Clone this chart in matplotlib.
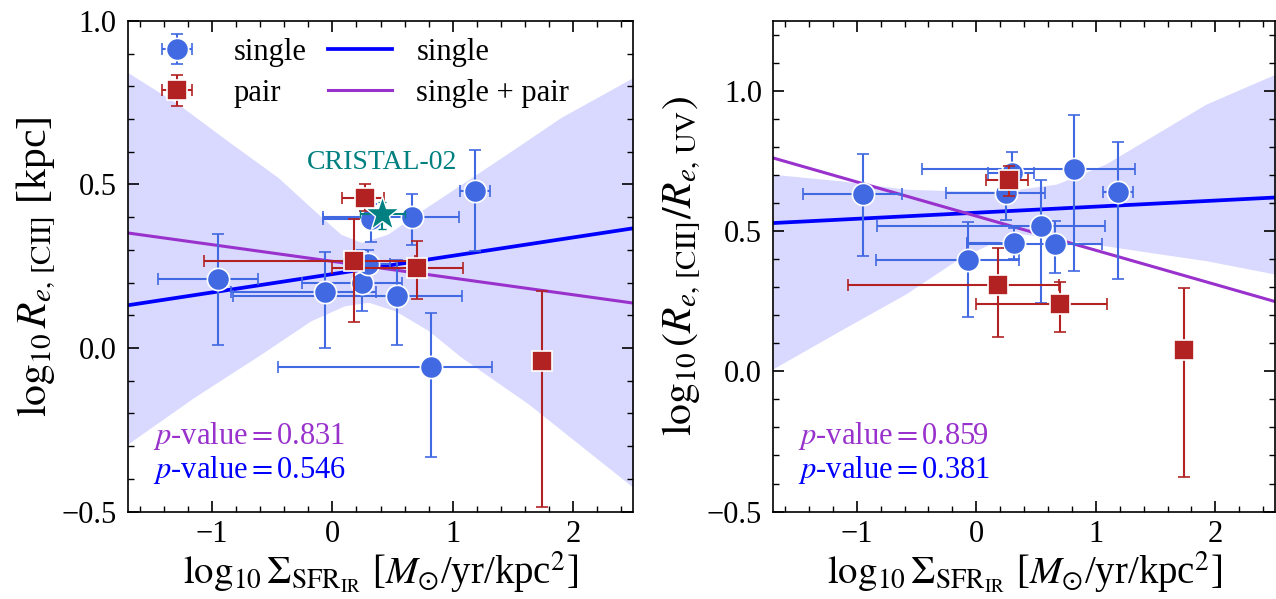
import numpy as np
import matplotlib
matplotlib.use("Agg")
import matplotlib.pyplot as plt
from matplotlib.ticker import MultipleLocator, FuncFormatter

plt.rcParams['font.family'] = ['Liberation Serif', 'DejaVu Serif']
plt.rcParams['mathtext.fontset'] = 'stix'

# ---------------- data ----------------
# single sources
single_x = np.array([-0.95, -0.065, 0.54, 0.66, 1.19, 0.82, 0.25, 0.30, 0.32])
single_xlo = np.array([-1.45, -0.84, -0.83, -0.075, 1.06, -0.45, -0.25, 0.095, -0.075])
single_xhi = np.array([-0.62, 0.36, 1.08, 1.05, 1.31, 1.33, 0.575, 0.48, 0.36])
# left panel: log10 Re,[CII]
single_yL = np.array([0.211, 0.170, 0.160, 0.400, 0.479, -0.059, 0.198, 0.257, 0.394])
single_yL_lo = np.array([0.009, 0.000, 0.009, 0.316, 0.297, -0.332, 0.114, 0.200, 0.325])
single_yL_hi = np.array([0.348, 0.294, 0.270, 0.470, 0.606, 0.107, 0.300, 0.300, 0.440])
# right panel: log10 (Re,[CII]/Re,UV)
single_yR = np.array([0.632, 0.397, 0.519, 0.456, 0.641, 0.721, 0.638, 0.709, 0.458])
single_yR_lo = np.array([0.410, 0.193, 0.243, 0.350, 0.329, 0.357, 0.540, 0.640, 0.400])
single_yR_hi = np.array([0.777, 0.534, 0.683, 0.537, 0.819, 0.915, 0.700, 0.783, 0.510])

# pair sources
pair_x = np.array([0.27, 0.18, 0.70, 1.74])
pair_xlo = np.array([0.08, -1.07, -0.005, 1.74])
pair_xhi = np.array([0.43, 0.69, 1.09, 1.74])
pair_yL = np.array([0.460, 0.265, 0.246, -0.041])
pair_yL_lo = np.array([0.420, 0.080, 0.150, -0.487])
pair_yL_hi = np.array([0.501, 0.393, 0.326, 0.175])
pair_yR = np.array([0.683, 0.308, 0.240, 0.077])
pair_yR_lo = np.array([0.624, 0.121, 0.139, -0.375])
pair_yR_hi = np.array([0.731, 0.439, 0.320, 0.296])

# CRISTAL-02
cristal_x, cristal_xlo, cristal_xhi = 0.41, 0.23, 0.60
cristal_y, cristal_ylo, cristal_yhi = 0.411, 0.364, 0.445

# fitted lines (intercept at x=0, slope)
fitL_single = (0.226, 0.056)
fitL_all = (0.265, -0.051)
fitR_single = (0.566, 0.0217)
fitR_all = (0.554, -0.122)

# confidence band edges (single fit)
bandL_x_up = [-1.70, -1.28, -0.87, -0.45, -0.15, 0.07, 0.24, 0.46, 0.74, 1.07, 1.49, 1.90, 2.50]
bandL_y_up = [0.842, 0.745, 0.633, 0.521, 0.420, 0.348, 0.323, 0.348, 0.420, 0.500, 0.603, 0.705, 0.827]
bandL_x_lo = [-1.70, -1.15, -0.59, -0.18, 0.10, 0.30, 0.52, 0.80, 1.07, 1.63, 2.50]
bandL_y_lo = [-0.293, -0.151, -0.018, 0.083, 0.129, 0.140, 0.114, 0.053, -0.028, -0.171, -0.426]

bandR_x_up = [-1.70, -1.14, -0.59, -0.17, 0.25, 0.67, 1.08, 1.50, 1.92, 2.50]
bandR_y_up = [0.703, 0.680, 0.650, 0.644, 0.644, 0.668, 0.739, 0.846, 0.953, 1.060]
bandR_x_lo = [-1.70, -1.14, -0.59, -0.17, 0.11, 0.39, 0.80, 1.36, 1.92, 2.50]
bandR_y_lo = [0.009, 0.145, 0.276, 0.395, 0.454, 0.490, 0.466, 0.430, 0.395, 0.347]

pvals_L = ("0.831", "0.546")
pvals_R = ("0.859", "0.381")

xlim = (-1.7, 2.5)

# ---------------- styling ----------------
C_SINGLE = '#4169E1'
C_PAIR = '#B22222'
C_LINE_S = '#0000FF'
C_LINE_A = '#9932CC'
C_TEAL = '#008080'

fig = plt.figure(figsize=(12.76, 5.99), dpi=100)
axL = fig.add_axes([0.1003, 0.146, 0.3958, 0.819])
axR = fig.add_axes([0.6058, 0.146, 0.3935, 0.819])


def draw(ax, yS, ySlo, yShi, yP, yPlo, yPhi, fit_s, fit_a, bxu, byu, bxl, byl, pv):
    grid = np.linspace(xlim[0], xlim[1], 200)
    up = np.interp(grid, bxu, byu)
    lo = np.interp(grid, bxl, byl)
    ax.fill_between(grid, lo, up, color='blue', alpha=0.15, lw=0, zorder=1)
    xx = np.array(xlim)
    ls, = ax.plot(xx, fit_s[0] + fit_s[1] * xx, color=C_LINE_S, lw=2.7, zorder=2)
    la, = ax.plot(xx, fit_a[0] + fit_a[1] * xx, color=C_LINE_A, lw=2.2, zorder=2)
    eb_s = ax.errorbar(single_x, yS,
                       xerr=[single_x - single_xlo, single_xhi - single_x],
                       yerr=[yS - ySlo, yShi - yS],
                       fmt='o', color=C_SINGLE, ecolor=C_SINGLE, ms=16, mec='white', mew=1.2,
                       elinewidth=1.5, capsize=4, capthick=1.5, zorder=4)
    eb_p = ax.errorbar(pair_x, yP,
                       xerr=[pair_x - pair_xlo, pair_xhi - pair_x],
                       yerr=[yP - yPlo, yPhi - yP],
                       fmt='s', color=C_PAIR, ecolor=C_PAIR, ms=14, mec='white', mew=1.2,
                       elinewidth=1.5, capsize=4, capthick=1.5, zorder=5)
    ax.set_xlim(*xlim)
    ax.xaxis.set_major_locator(MultipleLocator(1))
    ax.xaxis.set_minor_locator(MultipleLocator(0.2))
    ax.yaxis.set_major_locator(MultipleLocator(0.5))
    ax.yaxis.set_minor_locator(MultipleLocator(0.1))
    ax.tick_params(which='both', direction='in', top=True, right=True, labelsize=22)
    ax.tick_params(axis='x', pad=6)
    ax.tick_params(axis='y', pad=8)
    ax.tick_params(which='major', length=8, width=1.2)
    ax.tick_params(which='minor', length=4, width=1.0)
    for s in ax.spines.values():
        s.set_linewidth(1.2)
    ax.set_xlabel(r'$\log_{10}\Sigma_{\mathrm{SFR_{IR}}}$ [$M_{\odot}$/yr/kpc$^2$]', fontsize=28,
                  labelpad=0)
    ax.text(0.05, 0.138, r'$p$-value$=$' + pv[0], transform=ax.transAxes, color=C_LINE_A,
            fontsize=22, ha='left', va='baseline')
    ax.text(0.05, 0.069, r'$p$-value$=$' + pv[1], transform=ax.transAxes, color=C_LINE_S,
            fontsize=22, ha='left', va='baseline')
    ax.yaxis.set_major_formatter(FuncFormatter(
        lambda v, p: ('%.1f' % v).replace('-', '\u2212')))
    ax.xaxis.set_major_formatter(FuncFormatter(
        lambda v, p: ('%d' % round(v)).replace('-', '\u2212')))
    return eb_s, eb_p, ls, la


eb_s, eb_p, ls, la = draw(axL, single_yL, single_yL_lo, single_yL_hi,
                          pair_yL, pair_yL_lo, pair_yL_hi,
                          fitL_single, fitL_all, bandL_x_up, bandL_y_up, bandL_x_lo, bandL_y_lo, pvals_L)
axL.set_ylim(-0.5, 1.0)
axL.set_ylabel(r'$\log_{10}R_{e,\,[\mathrm{CII}]}$ [kpc]', fontsize=30, labelpad=4)

# CRISTAL-02
axL.errorbar([cristal_x], [cristal_y],
             xerr=[[cristal_x - cristal_xlo], [cristal_xhi - cristal_x]],
             yerr=[[cristal_y - cristal_ylo], [cristal_yhi - cristal_y]],
             fmt='*', color=C_TEAL, ecolor=C_TEAL, ms=26, mec='white', mew=1.0,
             elinewidth=1.5, capsize=3, capthick=1.5, zorder=6)
axL.text(cristal_x, 0.567, 'CRISTAL-02', color=C_TEAL, fontsize=20, ha='center', va='center')

axL.legend([eb_s, eb_p, ls, la], ['single', 'pair', 'single', 'single + pair'],
           ncol=2, loc='upper left', frameon=False, fontsize=22,
           handlelength=2.1, columnspacing=0.7, handletextpad=0.8,
           borderaxespad=0.15, labelspacing=0.4)

draw(axR, single_yR, single_yR_lo, single_yR_hi,
     pair_yR, pair_yR_lo, pair_yR_hi,
     fitR_single, fitR_all, bandR_x_up, bandR_y_up, bandR_x_lo, bandR_y_lo, pvals_R)
axR.set_ylim(-0.5, 1.25)
axR.set_ylabel(r'$\log_{10}(R_{e,\,[\mathrm{CII}]}/R_{e,\,\mathrm{UV}})$', fontsize=30, labelpad=4)

fig.savefig('out.png', dpi=100)
